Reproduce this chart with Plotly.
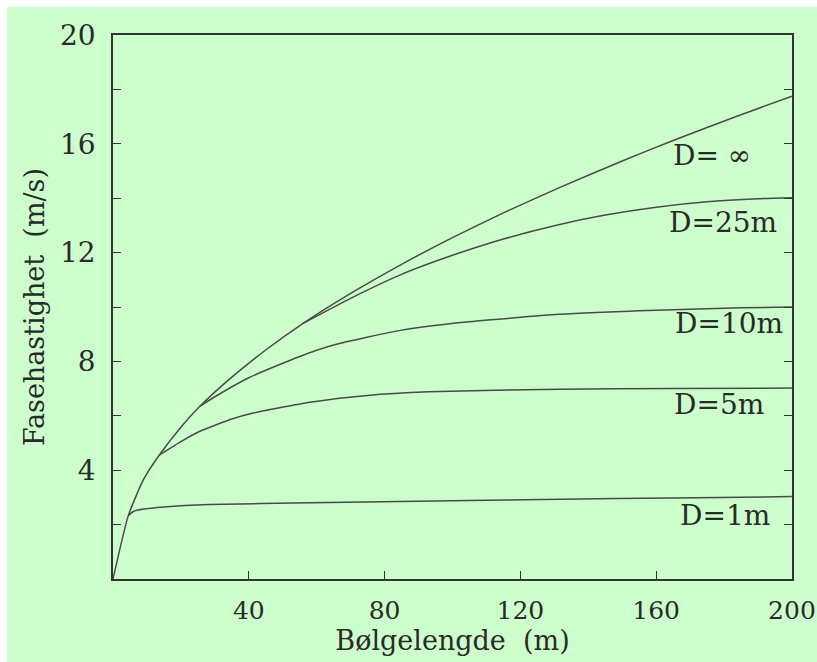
import plotly.graph_objects as go

# Phase velocity of surface waves versus wavelength for several water depths
wavelength_inf = [0, 4.5, 9, 13.6, 20, 25.6, 35, 45, 56, 70, 85, 100, 115, 131.5, 150, 165, 185, 200]
speed_inf = [0, 2.33, 3.66, 4.55, 5.58, 6.35, 7.42, 8.42, 9.4, 10.5, 11.57, 12.55, 13.46, 14.39, 15.37, 16.12, 17.07, 17.75]

wavelength_25 = [56, 70, 85, 100, 115, 130, 145, 160, 175, 190, 200]
speed_25 = [9.4, 10.32, 11.2, 11.9, 12.5, 12.99, 13.38, 13.67, 13.87, 13.98, 14.02]

wavelength_10 = [25.6, 30, 40, 55, 65, 85, 104, 131.5, 160, 185, 200]
speed_10 = [6.35, 6.7, 7.4, 8.18, 8.6, 9.15, 9.45, 9.73, 9.88, 9.97, 10.0]

wavelength_5 = [13.6, 20, 25.6, 35, 41.3, 58, 75, 93, 131.5, 165, 200]
speed_5 = [4.55, 5.05, 5.43, 5.88, 6.1, 6.5, 6.75, 6.88, 6.98, 7.0, 7.02]

wavelength_1 = [4.5, 6, 9, 15, 28.5, 58, 100, 131.5, 165, 200]
speed_1 = [2.33, 2.48, 2.57, 2.65, 2.74, 2.8, 2.88, 2.93, 2.98, 3.03]

curve_labels = ["D= \u221e", "D=25m", "D=10m", "D=5m", "D=1m"]
label_x = [188.6, 196.3, 198.0, 192.4, 194.2]
label_y = [15.56, 13.12, 9.39, 6.41, 2.35]

y_ticks = [2, 4, 6, 8, 10, 12, 14, 16, 18, 20]
y_ticktext = ["", "4", "", "8", "", "12", "", "16", "", "20"]
x_ticks = [40, 80, 120, 160, 200]
x_ticktext = ["40", "80", "120", "160", "200"]

FONT = "DejaVu Serif"
LINE = "#4a4a4a"
TEXT = "#2a2a2a"
BG = "#ccffcc"

fig = go.Figure()
for xs, ys in [(wavelength_inf, speed_inf), (wavelength_25, speed_25),
               (wavelength_10, speed_10), (wavelength_5, speed_5),
               (wavelength_1, speed_1)]:
    fig.add_trace(go.Scatter(x=xs, y=ys, mode="lines",
                             line=dict(color=LINE, width=1.5, shape="spline", smoothing=0.5),
                             showlegend=False, hoverinfo="skip", cliponaxis=False))

for text, lx, ly in zip(curve_labels, label_x, label_y):
    fig.add_annotation(x=lx, y=ly, text=text, showarrow=False, xanchor="right", yanchor="middle",
                       font=dict(family=FONT, size=28, color=TEXT))

# green panel behind everything, leaving a thin white margin at top and left
fig.add_shape(type="rect", xref="paper", yref="paper", x0=-0.1561, x1=1.05, y0=-0.17, y1=1.0515,
              fillcolor=BG, line=dict(width=0), layer="below")

fig.update_layout(
    width=817, height=662,
    margin=dict(l=113, r=25, t=35, b=83),
    paper_bgcolor="white",
    plot_bgcolor="rgba(0,0,0,0)",
    font=dict(family=FONT, size=28, color=TEXT),
)
fig.update_xaxes(
    range=[0, 200.02], tickvals=x_ticks, ticktext=x_ticktext, ticks="inside", ticklen=8, tickwidth=1.3,
    tickcolor="#333333", showline=True, linecolor="#333333", linewidth=1.6, mirror=True,
    showgrid=False, zeroline=False, ticklabelstandoff=8, automargin=False, ticklabeloverflow="allow",
    tickfont=dict(size=25),
    title=dict(text="B\u00f8lgelengde\u00a0 (m)", font=dict(family=FONT, size=27), standoff=7),
)
fig.update_yaxes(
    range=[0, 20], tickvals=y_ticks, ticktext=y_ticktext, ticks="inside", ticklen=8, tickwidth=1.3,
    tickcolor="#333333", showline=True, linecolor="#333333", linewidth=1.6, mirror="ticks",
    showgrid=False, zeroline=False, ticklabelstandoff=10, automargin=False,
    title=dict(text="Fasehastighet\u00a0 (m/s)", font=dict(family=FONT, size=27), standoff=8),
)

fig.write_html("out.html")
